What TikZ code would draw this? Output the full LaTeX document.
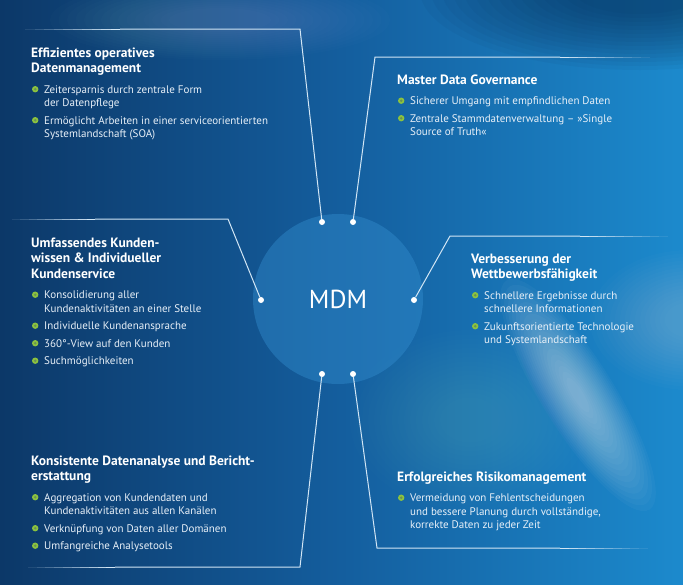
\documentclass[tikz,border=0pt]{standalone}
\usepackage{fontspec}
\setmainfont{PT Sans}
\usepackage{tikz}
\usetikzlibrary{positioning,calc}
\definecolor{bgdark}{RGB}{12,56,104}
\definecolor{bgmid}{RGB}{20,94,158}
\definecolor{bglight}{RGB}{28,138,205}
\definecolor{bgnavy}{RGB}{8,40,78}
\definecolor{hubblue}{RGB}{50,140,205}
\definecolor{linkcol}{RGB}{210,230,245}
\definecolor{bodytxt}{RGB}{232,240,248}
\definecolor{bulgreen}{RGB}{140,195,62}
\definecolor{bulcore}{RGB}{105,145,85}
\tikzset{
  link/.style={linkcol,line width=1pt},
  dot/.style={circle,fill=white,minimum size=6pt,inner sep=0pt},
  hub/.style={circle,fill=hubblue,fill opacity=0.45,text opacity=1,text=white,minimum size=170pt,font=\fontsize{26}{26}\selectfont},
  block/.style={anchor=base west,inner sep=0pt,text=white}
}
\newcommand{\bulsym}{\tikz[baseline={(0,-3.8pt)}]{\fill[bulgreen] (0pt,0pt) circle[radius=3.2pt]; \fill[bulcore] (0pt,0pt) circle[radius=1.4pt];}}
\newcommand{\blk}[2]{\begin{minipage}[t]{300pt}\raggedright
  \fontsize{13.5}{15.5}\selectfont\bfseries #1\par
  \vspace{7pt}\fontsize{11}{13.5}\selectfont\mdseries\color{bodytxt}#2\end{minipage}}
\newcommand{\itm}[1]{{\let\\\newline\hangindent=13pt\hangafter=1\noindent\makebox[13pt][l]{\hspace{0.8pt}\bulsym}#1\par}\vspace{4pt}}
\begin{document}
\begin{tikzpicture}[x=1pt,y=-1pt]
  \useasboundingbox (0,0) rectangle (683,584);
  % background and glows
  \shade[left color=bgdark,right color=bglight,middle color=bgmid] (0,0) rectangle (683,584);
  \foreach \r in {1,0.95,...,0.25}{ \fill[bgnavy,opacity=0.05] (640,-10) ellipse [x radius=220*\r,y radius=80*\r]; }
  \foreach \r in {1,0.95,...,0.25}{ \fill[white,opacity=0.012] (220,20) ellipse [x radius=170*\r,y radius=40*\r]; }
  \begin{scope}[shift={(578,395)},rotate=-58]
    \foreach \r in {1,0.95,...,0.1}{ \fill[white,opacity=0.03] (0,0) ellipse [x radius=135*\r,y radius=36*\r]; }
  \end{scope}
  \foreach \r in {1,0.95,...,0.2}{ \fill[white,opacity=0.015] (690,320) ellipse [x radius=100*\r,y radius=70*\r]; }
  \foreach \r in {1,0.95,...,0.2}{ \fill[white,opacity=0.008] (470,420) ellipse [x radius=120*\r,y radius=90*\r]; }

  % hub and dots
  \node[hub] (mdm) at (338,299) {MDM};
  \node[dot] (d1) at (322,222) {};
  \node[dot] (d2) at (353,222) {};
  \node[dot] (d3) at (261,300) {};
  \node[dot] (d4) at (414,300) {};
  \node[dot] (d5) at (322,374) {};
  \node[dot] (d6) at (353,374) {};

  % corners, fade starts, free ends
  \coordinate (c1) at (300,29);  \coordinate (m1) at (120,29);  \coordinate (e1) at (25,29);
  \coordinate (c2) at (375,57);  \coordinate (m2) at (560,57);  \coordinate (e2) at (650,57);
  \coordinate (c3) at (228,219); \coordinate (m3) at (95,219);  \coordinate (e3) at (12,219);
  \coordinate (c4) at (450,236); \coordinate (m4) at (580,236); \coordinate (e4) at (668,236);
  \coordinate (c5) at (300,567); \coordinate (m5) at (115,567); \coordinate (e5) at (28,567);
  \coordinate (c6) at (377,548); \coordinate (m6) at (560,548); \coordinate (e6) at (648,548);

  \foreach \i in {1,...,6}{
    \draw[link] (d\i) -- (c\i) -- (m\i);
    \foreach \k [evaluate=\k as \ka using \k/10, evaluate=\k as \kb using (\k+1)/10,
                 evaluate=\k as \op using 1-\k/10] in {0,...,9}{
      \draw[link,draw opacity=\op] ($(m\i)!\ka!(e\i)$) -- ($(m\i)!\kb!(e\i)$);
    }
  }

  % text blocks
  \node[block] (b1) at (31,57) {\blk{Effizientes operatives\\Datenmanagement}{%
    \itm{Zeitersparnis durch zentrale Form\\der Datenpflege}
    \itm{Ermöglicht Arbeiten in einer serviceorientierten\\Systemlandschaft (SOA)}}};
  \node[block] (b2) at (397,84) {\blk{Master Data Governance}{%
    \itm{Sicherer Umgang mit empfindlichen Daten}
    \itm{Zentrale Stammdatenverwaltung – »Single\\Source of Truth«}}};
  \node[block] (b3) at (31,247) {\blk{Umfassendes Kunden-\\wissen \& Individueller\\Kundenservice}{%
    \itm{Konsolidierung aller\\Kundenaktivitäten an einer Stelle}
    \itm{Individuelle Kundenansprache}
    \itm{360°-View auf den Kunden}
    \itm{Suchmöglichkeiten}}};
  \node[block] (b4) at (471,263) {\blk{Verbesserung der\\Wettbewerbsfähigkeit}{%
    \itm{Schnellere Ergebnisse durch\\schnellere Informationen}
    \itm{Zukunftsorientierte Technologie\\und Systemlandschaft}}};
  \node[block] (b5) at (31,465) {\blk{Konsistente Datenanalyse und Bericht-\\erstattung}{%
    \itm{Aggregation von Kundendaten und\\Kundenaktivitäten aus allen Kanälen}
    \itm{Verknüpfung von Daten aller Domänen}
    \itm{Umfangreiche Analysetools}}};
  \node[block] (b6) at (397,481) {\blk{Erfolgreiches Risikomanagement}{%
    \itm{Vermeidung von Fehlentscheidungen\\und bessere Planung durch vollständige,\\korrekte Daten zu jeder Zeit}}};
\end{tikzpicture}
\end{document}
